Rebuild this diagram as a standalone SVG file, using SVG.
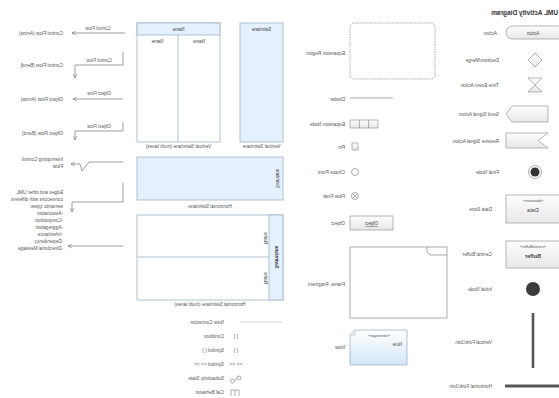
<svg xmlns="http://www.w3.org/2000/svg" width="559" height="398" viewBox="0 0 559 398">
<defs>
<style>
text{font-family:"Liberation Sans",Arial,sans-serif;fill:#555;font-size:4.8px}
.t{font-size:6.5px;font-weight:bold;fill:#333}
.in{font-size:4.5px;fill:#444;text-anchor:middle}
.sm{font-size:3.8px;fill:#555;text-anchor:middle}
.mid{text-anchor:middle}
.sh{fill:url(#g1);stroke:#999;stroke-width:0.7}
.ln{fill:#fff;stroke:#9fb3c8;stroke-width:0.8}
.bl{fill:#e4f0fb;stroke:#9fb3c8;stroke-width:0.8}
.e{fill:none;stroke:#777;stroke-width:0.7}
.g{fill:none;stroke:#888;stroke-width:0.7}
</style>
<linearGradient id="g1" x1="0" y1="0" x2="0" y2="1"><stop offset="0" stop-color="#fdfdfd"/><stop offset="1" stop-color="#e8e8e8"/></linearGradient>
<linearGradient id="gn" x1="0" y1="0" x2="0" y2="1"><stop offset="0" stop-color="#ffffff"/><stop offset="1" stop-color="#d3e7f7"/></linearGradient>
<marker id="arr" viewBox="0 0 8 8" refX="7" refY="4" markerWidth="5" markerHeight="5" orient="auto" markerUnits="userSpaceOnUse"><path d="M1,1 L7,4 L1,7" fill="none" stroke="#777" stroke-width="1"/></marker>
</defs>
<rect width="559" height="398" fill="#fff"/>
<g transform="translate(559,0) scale(-1,1)">
<text class="t" x="1" y="15">UML Activity Diagram</text>

<g id="action"><rect class="sh" x="-6" y="26" width="59" height="13" rx="6.5"/><text class="in" x="26" y="34.5">Action</text><text x="62" y="34.5">Action</text></g>
<g id="decision"><polygon class="sh" points="24,53 31,60 24,67 17,60"/><text x="60" y="62">Decision/Merge</text></g>
<g id="time-event"><path class="sh" d="M17,78 H31 L17,92 H31 Z"/><text x="60" y="87">Time Event Action</text></g>
<g id="send-signal"><polygon class="sh" points="11,106 47,106 53,114 47,122 11,122"/><text x="60" y="116">Send Signal Action</text></g>
<g id="receive-signal"><polygon class="sh" points="11,133 53,133 53,148 11,148 21,140.5"/><text x="60" y="143">Receive Signal Action</text></g>
<g id="final-node"><circle cx="24" cy="172" r="6.5" fill="#fff" stroke="#999" stroke-width="0.8"/><circle cx="24" cy="172" r="4.5" fill="#333"/><text x="60" y="174">Final Node</text></g>
<g id="data-store"><rect class="sh" x="-2" y="195" width="55" height="28"/><text class="sm" x="26" y="202">«datastore»</text><text class="in" x="26" y="212" style="font-size:5.5px">Data</text><text x="67" y="211">Data Store</text></g>
<g id="central-buffer"><rect class="sh" x="-2" y="241" width="55" height="27"/><text class="sm" x="26" y="248">«centralBuffer»</text><text class="in" x="26" y="258" style="font-size:5.5px;font-weight:bold">Buffer</text><text x="67" y="256">Central Buffer</text></g>
<g id="initial-node"><circle cx="26" cy="289" r="7" fill="#3a3a3a"/><text x="67" y="291">Initial Node</text></g>
<g id="vertical-fork"><rect x="24.7" y="313" width="2.6" height="55" fill="#555"/><text x="67" y="344">Vertical Fork/Join</text></g>
<g id="horizontal-fork"><rect x="0" y="384.5" width="54" height="3" fill="#555"/><text x="67" y="388">Horizontal Fork/Join</text></g>

<g id="expansion-region"><rect x="124" y="23" width="85" height="56" rx="4" fill="#fff" stroke="#888" stroke-width="0.7" stroke-dasharray="1.5,1"/><text x="214" y="55">Expansion Region</text></g>
<g id="divider"><line x1="166" y1="98" x2="209" y2="98" stroke="#888" stroke-width="0.7"/><text x="214" y="101">Divider</text></g>
<g id="expansion-node"><rect class="sh" x="181" y="120" width="28" height="8"/><path class="g" d="M190.3,120 V128 M199.7,120 V128"/><text x="214" y="126">Expansion Node</text></g>
<g id="pin"><rect class="sh" x="201" y="143" width="6" height="7"/><text x="214" y="149">Pin</text></g>
<g id="choice-point"><circle cx="204" cy="172" r="3.5" fill="#fff" stroke="#888" stroke-width="0.7"/><text x="214" y="174">Choice Point</text></g>
<g id="flow-final"><circle cx="204" cy="196" r="3.5" fill="#fff" stroke="#888" stroke-width="0.7"/><path class="g" d="M201.5,193.5 L206.5,198.5 M206.5,193.5 L201.5,198.5"/><text x="214" y="198">Flow Final</text></g>
<g id="object"><rect class="sh" x="166" y="216" width="43" height="14"/><text class="in" x="187.5" y="225" text-decoration="underline">Object</text><text x="214" y="225">Object</text></g>
<g id="frame"><rect x="112" y="247" width="97" height="71" fill="#fff" stroke="#888" stroke-width="0.7"/><path class="g" d="M112,255 H129 L132,252 V247"/><text x="214" y="286">Frame, Fragment</text></g>
<g id="note"><path d="M152,330 H204 L209,335 V365 H152 Z" fill="url(#gn)" stroke="#9fb3c8" stroke-width="0.8"/><path d="M204,330 V335 H209" fill="none" stroke="#9fb3c8" stroke-width="0.6"/><text class="sm" x="180" y="337">«stereotype»</text><text x="157" y="346" style="font-size:4.5px">Note</text><text x="214" y="349">Note</text></g>

<g id="vertical-swimlane-multi"><rect class="ln" x="339" y="23" width="83" height="119"/><rect class="bl" x="339" y="23" width="83" height="12"/><line x1="381" y1="35" x2="381" y2="142" stroke="#9fb3c8" stroke-width="0.8"/><text class="in" x="380.5" y="31">Name</text><text class="in" x="360" y="43">Name</text><text class="in" x="401.5" y="43">Name</text><text class="mid" x="380.5" y="148">Vertical Swimlane (multi lanes)</text></g>
<g id="vertical-swimlane"><rect class="bl" x="276" y="23" width="43" height="119"/><text class="in" x="297.5" y="31">Swimlane</text><text class="mid" x="297.5" y="148">Vertical Swimlane</text></g>
<g id="horizontal-swimlane"><rect class="bl" x="276" y="157" width="146" height="43"/><text class="in" x="282" y="178.5" dominant-baseline="middle" transform="rotate(-90 282 178.5)">Swimlane</text><text class="mid" x="349" y="208">Horizontal Swimlane</text></g>
<g id="horizontal-swimlane-multi"><rect class="ln" x="276" y="215" width="146" height="85"/><rect class="bl" x="276" y="215" width="14" height="85"/><line x1="290" y1="257" x2="422" y2="257" stroke="#9fb3c8" stroke-width="0.8"/><text class="in" x="283" y="257" dominant-baseline="middle" transform="rotate(-90 283 257)" style="font-size:5px;font-weight:bold">Swimlane</text><text class="in" x="294" y="238" dominant-baseline="middle" transform="rotate(-90 294 238)">Name</text><text class="in" x="294" y="278" dominant-baseline="middle" transform="rotate(-90 294 278)">Name</text><text class="mid" x="349" y="306">Horizontal Swimlane (multi lanes)</text></g>

<g id="note-connector"><line x1="277" y1="322" x2="319" y2="322" stroke="#bbb" stroke-width="0.7"/><text x="335" y="324">Note Connector</text></g>
<g id="condition"><text class="mid" x="323" y="338">[ ]</text><text x="335" y="338">Condition</text></g>
<g id="symbol-braces"><text class="mid" x="323" y="352">{ }</text><text x="335" y="352">Symbol { }</text></g>
<g id="symbol-guillemets"><text class="mid" x="323" y="366">&lt;&lt; &gt;&gt;</text><text x="335" y="366">Symbol &lt;&lt; &gt;&gt;</text></g>
<g id="subactivity"><circle cx="320" cy="378" r="2" fill="none" stroke="#777" stroke-width="0.6"/><circle cx="326.5" cy="381" r="2" fill="none" stroke="#777" stroke-width="0.6"/><line x1="322" y1="378.5" x2="324.5" y2="380.5" stroke="#777" stroke-width="0.6"/><text x="335" y="380">Subactivity State</text></g>
<g id="call-behavior"><path d="M320,396 V390 H328 V396 M324,390 V396" fill="none" stroke="#777" stroke-width="0.6"/><text x="335" y="394">Call Behavior</text></g>

<g id="connectors">
<path class="e" d="M434,33 H487" marker-end="url(#arr)"/>
<text class="mid" x="461" y="30" style="font-size:4.5px">Control Flow</text>
<text x="496" y="35">Control Flow (Arrow)</text>
<path class="e" d="M436,52 V65 H484 V78" marker-end="url(#arr)"/>
<text class="mid" x="460" y="62" style="font-size:4.5px">Control Flow</text>
<text x="496" y="67">Control Flow (Bend)</text>
<path class="e" d="M436,99 H486" marker-end="url(#arr)"/>
<text class="mid" x="460" y="95" style="font-size:4.5px">Object Flow</text>
<text x="496" y="101">Object Flow (Arrow)</text>
<path class="e" d="M436,122 V131 H484 V140" marker-end="url(#arr)"/>
<text class="mid" x="460" y="128" style="font-size:4.5px">Object Flow</text>
<text x="496" y="135">Object Flow (Bend)</text>
<path class="e" d="M436,162 H470 L477,171 L479,164 H488" marker-end="url(#arr)"/>
<text x="496" y="161">Interrupting Control</text>
<text x="496" y="168">Flow</text>
<path class="e" d="M436,183 V202 H487 V212" marker-end="url(#arr)"/>
<path class="e" d="M436,246 H491" marker-end="url(#arr)"/>
<text x="496" y="194">Edges and other UML</text>
<text x="496" y="201">connectors with different</text>
<text x="496" y="208">semantic types:</text>
<text x="496" y="215">-Association</text>
<text x="496" y="222">-Composition</text>
<text x="496" y="229">-Aggregation</text>
<text x="496" y="236">-Inheritance</text>
<text x="496" y="243">-Dependency</text>
<text x="496" y="250">-Directional Message</text>
</g>
</g>
</svg>
